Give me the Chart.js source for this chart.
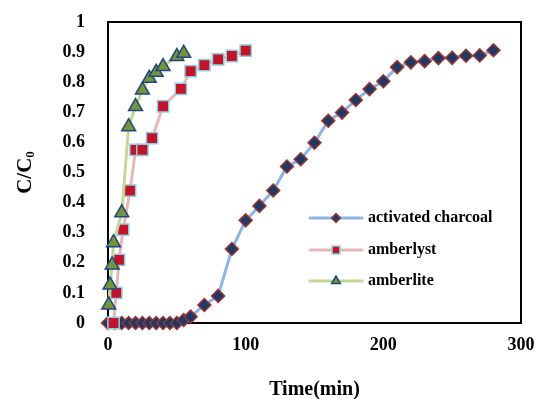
<!DOCTYPE html>
<html><head><meta charset="utf-8">
<script src="https://cdn.jsdelivr.net/npm/chart.js@4/dist/chart.umd.min.js"></script>
<style>html,body{margin:0;padding:0;background:#fff}canvas{display:block}</style>
</head><body>
<canvas id="c" width="538" height="399"></canvas>
<script>
// ---- data ----
const charcoalTime = [0,5,10,15,20,25,30,35,40,45,50,55,60,70,80,90,100,110,120,130,140,150,160,170,180,190,200,210,220,230,240,250,260,270,280];
const charcoalC    = [0,0,0,0,0,0,0,0,0,0,0,0.01,0.021,0.06,0.09,0.246,0.341,0.389,0.44,0.52,0.544,0.599,0.672,0.699,0.741,0.777,0.803,0.85,0.866,0.87,0.88,0.881,0.888,0.889,0.906];
const amberlystTime = [4,6,8,11,16,20,25,32,40,53,60,70,80,90,100];
const amberlystC    = [0,0.10,0.21,0.31,0.44,0.575,0.575,0.614,0.72,0.778,0.837,0.857,0.876,0.887,0.905];
const amberliteTime = [0.5,1.5,3,4,10,15,20,25,30,35,40,50,55];
const amberliteC    = [0.06,0.126,0.193,0.267,0.366,0.652,0.719,0.774,0.813,0.833,0.852,0.885,0.896];
const seriesNames = ['activated charcoal','amberlyst','amberlite'];
const xTicks = [0,100,200,300];
const yTicks = [0,0.1,0.2,0.3,0.4,0.5,0.6,0.7,0.8,0.9,1];
const yTickLabels = ['0','0.1','0.2','0.3','0.4','0.5','0.6','0.7','0.8','0.9','1'];
const xTitle = 'Time(min)';
const yTitleMain = 'C/C';
const yTitleSub = '0';

const FONT = '"Liberation Serif","Times New Roman",serif';
function pts(xs, ys){ return xs.map((x,i)=>({x:x, y:ys[i]})); }

const datasets = [
  {label:seriesNames[0], data:pts(charcoalTime,charcoalC), borderColor:'#8DB4E2', borderWidth:3,
   pointStyle:'rectRot', pointRadius:6.5, pointBackgroundColor:'#1F3864', pointBorderColor:'#953735', pointBorderWidth:1.5,
   order:3, clip:false, tension:0, legendRadius:4.5},
  {label:seriesNames[1], data:pts(amberlystTime,amberlystC), borderColor:'#E6B9B8', borderWidth:3,
   pointStyle:'rect', pointRadius:8, pointBackgroundColor:'#C0142C', pointBorderColor:'#93CDDD', pointBorderWidth:1.5,
   order:2, clip:false, tension:0, legendRadius:5.5},
  {label:seriesNames[2], data:pts(amberliteTime,amberliteC), borderColor:'#C3D69B', borderWidth:3,
   pointStyle:'triangle', pointRadius:8, pointBackgroundColor:'#77933C', pointBorderColor:'#1F497D', pointBorderWidth:1.5,
   order:1, clip:false, tension:0, legendRadius:5}
];

const decor = {
  id:'decor',
  beforeDatasetsDraw(chart){
    const {ctx, chartArea:a} = chart;
    ctx.save();
    ctx.strokeStyle = '#000'; ctx.lineWidth = 2;
    ctx.strokeRect(a.left, a.top, a.right-a.left, a.bottom-a.top);
    ctx.restore();
  },
  afterDraw(chart){
    const {ctx, chartArea:a} = chart;
    ctx.save();
    // legend
    const rows = [218, 250, 281];
    const lx0 = 310, lx1 = 362, mx = 336, tx = 368;
    chart.data.datasets.forEach((ds,i)=>{
      const y = rows[i];
      ctx.strokeStyle = ds.borderColor; ctx.lineWidth = 3; ctx.lineCap = 'round';
      ctx.beginPath(); ctx.moveTo(lx0,y); ctx.lineTo(lx1,y); ctx.stroke();
      ctx.fillStyle = ds.pointBackgroundColor; ctx.strokeStyle = ds.pointBorderColor; ctx.lineWidth = 1.5;
      Chart.helpers.drawPoint(ctx, {pointStyle:ds.pointStyle, radius:ds.legendRadius, rotation:0, borderWidth:1.5}, mx, y);
      ctx.fillStyle = '#000';
      ctx.font = 'bold 16px ' + FONT;
      ctx.textAlign = 'left'; ctx.textBaseline = 'middle';
      ctx.fillText(ds.label, tx, y);
    });
    // x title
    ctx.fillStyle = '#000';
    ctx.font = 'bold 20px ' + FONT;
    ctx.textAlign = 'center'; ctx.textBaseline = 'alphabetic';
    ctx.fillText(xTitle, (a.left + a.right)/2, 395);
    // y title with subscript
    ctx.translate(31, (a.top + a.bottom)/2);
    ctx.rotate(-Math.PI/2);
    ctx.font = 'bold 21px ' + FONT;
    const w1 = ctx.measureText(yTitleMain).width;
    ctx.font = 'bold 13px ' + FONT;
    const w2 = ctx.measureText(yTitleSub).width;
    const start = -(w1 + w2)/2;
    ctx.textAlign = 'left';
    ctx.font = 'bold 21px ' + FONT;
    ctx.fillText(yTitleMain, start, 0);
    ctx.font = 'bold 13px ' + FONT;
    ctx.fillText(yTitleSub, start + w1, 3);
    ctx.restore();
  }
};

new Chart(document.getElementById('c'), {
  type:'line',
  data:{datasets:datasets},
  options:{
    responsive:false, animation:false, devicePixelRatio:1,
    layout:{padding:{top:22, right:17, left:0, bottom:0}},
    plugins:{legend:{display:false}, tooltip:{enabled:false}},
    scales:{
      x:{type:'linear', min:0, max:300,
         afterBuildTicks:s=>{ s.ticks = xTicks.map(v=>({value:v})); },
         afterFit:s=>{ s.height = 76; s.paddingLeft = 0; s.paddingRight = 0; },
         grid:{display:false}, border:{display:false},
         ticks:{padding:4, color:'#000', font:{family:FONT, size:18, weight:'bold'}, maxRotation:0,
                callback:v=>String(v)}},
      y:{type:'linear', min:0, max:1,
         afterBuildTicks:s=>{ s.ticks = yTicks.map(v=>({value:v})); },
         afterFit:s=>{ s.width = 108; s.paddingTop = 0; s.paddingBottom = 0; },
         grid:{display:false}, border:{display:false},
         ticks:{padding:15, color:'#000', font:{family:FONT, size:18, weight:'bold'},
                callback:(v)=>{ const i = yTicks.findIndex(t=>Math.abs(t-v)<1e-9); return i>=0 ? yTickLabels[i] : ''; }}}
    }
  },
  plugins:[decor]
});
</script>
</body></html>
